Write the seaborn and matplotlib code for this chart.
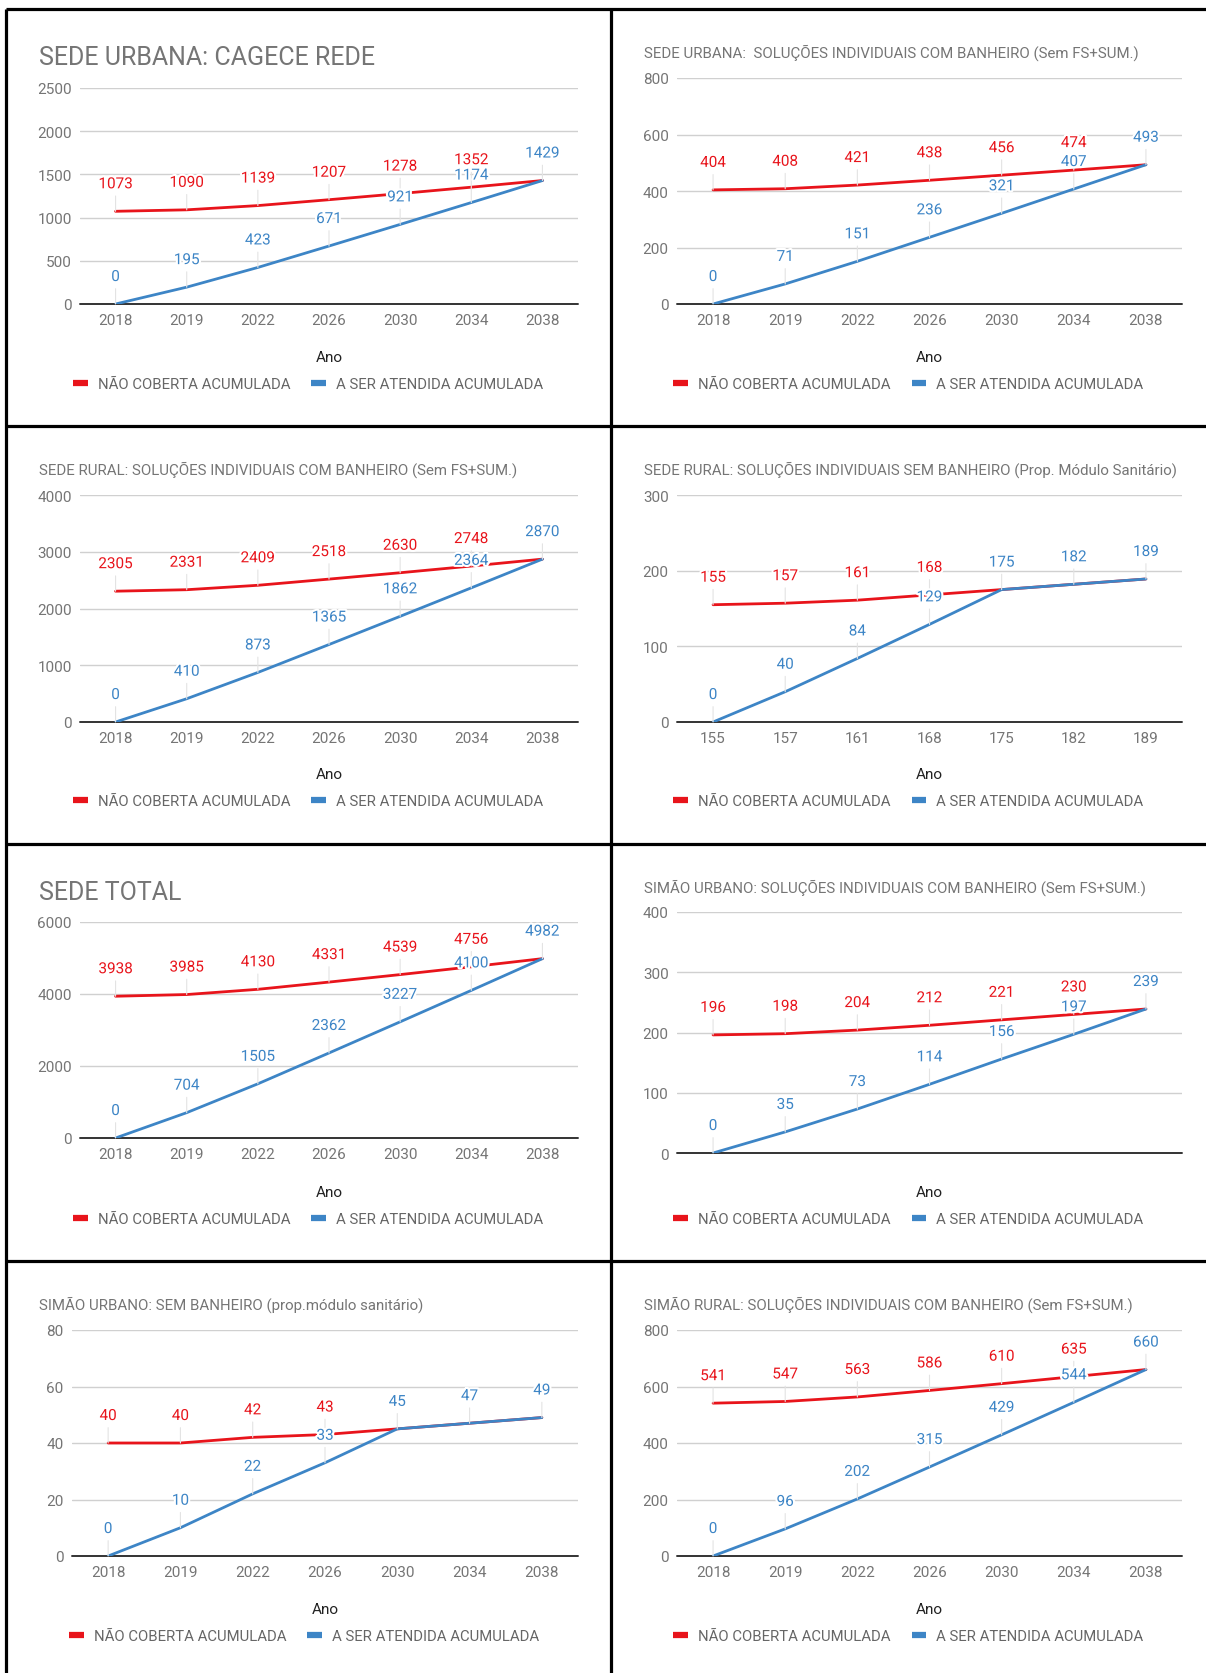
import matplotlib
matplotlib.use("Agg")
import matplotlib.pyplot as plt
import matplotlib.patheffects as pe
from matplotlib.lines import Line2D
import seaborn as sns
import pandas as pd

sns.set_theme(style="white")
plt.rcParams["font.family"] = ["Roboto", "DejaVu Sans"]

# ---------------- data ----------------
anos = ["2018", "2019", "2022", "2026", "2030", "2034", "2038"]
ticks_sede_rural_sem = ["155", "157", "161", "168", "175", "182", "189"]

titulos = [
    "SEDE URBANA: CAGECE REDE",
    "SEDE URBANA:  SOLUÇÕES INDIVIDUAIS COM BANHEIRO (Sem FS+SUM.)",
    "SEDE RURAL: SOLUÇÕES INDIVIDUAIS COM BANHEIRO (Sem FS+SUM.)",
    "SEDE RURAL: SOLUÇÕES INDIVIDUAIS SEM BANHEIRO (Prop. Módulo Sanitário)",
    "SEDE TOTAL",
    "SIMÃO URBANO: SOLUÇÕES INDIVIDUAIS COM BANHEIRO (Sem FS+SUM.)",
    "SIMÃO URBANO: SEM BANHEIRO (prop.módulo sanitário)",
    "SIMÃO RURAL: SOLUÇÕES INDIVIDUAIS COM BANHEIRO (Sem FS+SUM.)",
]

nao_sede_urb_rede = [1073, 1090, 1139, 1207, 1278, 1352, 1429]
ser_sede_urb_rede = [0, 195, 423, 671, 921, 1174, 1429]
nao_sede_urb_ind = [404, 408, 421, 438, 456, 474, 493]
ser_sede_urb_ind = [0, 71, 151, 236, 321, 407, 493]
nao_sede_rur_com = [2305, 2331, 2409, 2518, 2630, 2748, 2870]
ser_sede_rur_com = [0, 410, 873, 1365, 1862, 2364, 2870]
nao_sede_rur_sem = [155, 157, 161, 168, 175, 182, 189]
ser_sede_rur_sem = [0, 40, 84, 129, 175, 182, 189]
nao_sede_total = [3938, 3985, 4130, 4331, 4539, 4756, 4982]
ser_sede_total = [0, 704, 1505, 2362, 3227, 4100, 4982]
nao_simao_urb_com = [196, 198, 204, 212, 221, 230, 239]
ser_simao_urb_com = [0, 35, 73, 114, 156, 197, 239]
nao_simao_urb_sem = [40, 40, 42, 43, 45, 47, 49]
ser_simao_urb_sem = [0, 10, 22, 33, 45, 47, 49]
nao_simao_rur_com = [541, 547, 563, 586, 610, 635, 660]
ser_simao_rur_com = [0, 96, 202, 315, 429, 544, 660]

y_max = [2500, 800, 4000, 300, 6000, 400, 80, 800]
y_passo = [500, 200, 1000, 100, 2000, 100, 20, 200]

series = [
    (nao_sede_urb_rede, ser_sede_urb_rede),
    (nao_sede_urb_ind, ser_sede_urb_ind),
    (nao_sede_rur_com, ser_sede_rur_com),
    (nao_sede_rur_sem, ser_sede_rur_sem),
    (nao_sede_total, ser_sede_total),
    (nao_simao_urb_com, ser_simao_urb_com),
    (nao_simao_urb_sem, ser_simao_urb_sem),
    (nao_simao_rur_com, ser_simao_rur_com),
]
x_labels = [anos, anos, anos, ticks_sede_rural_sem, anos, None, anos, anos]

NOME_NAO = "NÃO COBERTA ACUMULADA"
NOME_SER = "A SER ATENDIDA ACUMULADA"

# ---------------- style ----------------
RED = "#e8141b"
BLUE = "#3d85c6"
GRAY_TXT = "#757575"
GRID = "#d0d0d0"

W, H = 1206, 1674
fig = plt.figure(figsize=(W / 100, H / 100), dpi=100)
fig.patch.set_facecolor("white")

# panel geometry in pixels: left, right, top gridline, zero line
panel_top = [10, 10, 427, 427, 845, 845, 1262, 1262]
geo = [
    (80, 578, 89, 305),
    (677, 1182, 79, 305),
    (80, 578, 496, 723),
    (677, 1182, 496, 723),
    (80, 578, 923, 1139),
    (677, 1182, 913, 1154),
    (72, 578, 1331, 1557),
    (677, 1182, 1331, 1557),
]
big_title = [True, False, False, False, True, False, False, False]
col_left = [6, 611, 6, 611, 6, 611, 6, 611]


def fx(px):
    return px / W


def fy(py):
    return 1 - py / H


for k in range(8):
    l, r, t, z = geo[k]
    T = panel_top[k]
    ax = fig.add_axes([fx(l), fy(z), (r - l) / W, (z - t) / H])
    nao, ser = series[k]
    df = pd.DataFrame({
        "idx": list(range(7)) * 2,
        "valor": nao + ser,
        "serie": [NOME_NAO] * 7 + [NOME_SER] * 7,
    })
    sns.lineplot(data=df, x="idx", y="valor", hue="serie",
                 hue_order=[NOME_NAO, NOME_SER],
                 palette={NOME_NAO: RED, NOME_SER: BLUE},
                 linewidth=2.0, legend=False, ax=ax, zorder=3)
    ax.set_xlim(-0.5, 6.5)
    ax.set_ylim(0, y_max[k])
    ax.set_yticks(list(range(0, y_max[k] + 1, y_passo[k])))
    ax.set_xticks(range(7))
    if x_labels[k] is not None:
        ax.set_xticklabels(x_labels[k])
    else:
        ax.set_xticklabels([""] * 7)
    for s in ax.spines.values():
        s.set_visible(False)
    ax.set_facecolor("none")
    ax.yaxis.grid(True, color=GRID, lw=1.0)
    ax.xaxis.grid(False)
    ax.set_axisbelow(True)
    ax.axhline(0, color="#333333", lw=1.4, zorder=2, clip_on=False)
    ax.tick_params(axis="both", length=0, labelsize=11, colors=GRAY_TXT)
    ax.tick_params(axis="y", pad=6)
    ax.tick_params(axis="x", pad=6.5)
    ax.set_xlabel("")
    ax.set_ylabel("")

    halo = [pe.withStroke(linewidth=3, foreground="white")]
    for serie_vals, cor, other in ((nao, RED, ser), (ser, BLUE, None)):
        for i, v in enumerate(serie_vals):
            if other is not None and other[i] == v:
                continue
            ax.annotate(str(v), xy=(i, v), xytext=(0, 27),
                        textcoords="offset pixels", ha="center", va="center",
                        fontsize=11, color=cor, zorder=5,
                        path_effects=halo,
                        arrowprops=dict(arrowstyle="-", color="#e3e3e3",
                                        lw=0.8, shrinkA=1, shrinkB=0))

    # title
    if big_title[k]:
        fig.text(fx(col_left[k] + 33), fy(T + 48), titulos[k], fontsize=18,
                 color=GRAY_TXT, ha="left", va="center")
    else:
        fig.text(fx(col_left[k] + 33), fy(T + 43), titulos[k], fontsize=10.8,
                 color=GRAY_TXT, ha="left", va="center")

    # axis title
    fig.text(fx((l + r) / 2), fy(T + 348), "Ano", fontsize=11,
             color="#222222", ha="center", va="center")

    # legend
    handles = [Line2D([], [], color=RED, lw=4.5, solid_capstyle="butt"),
               Line2D([], [], color=BLUE, lw=4.5, solid_capstyle="butt")]
    cx = (l + r) / 2 - 21
    leg = ax.legend(handles, [NOME_NAO, NOME_SER], loc="center",
                    bbox_to_anchor=(fx(cx), fy(T + 375)),
                    bbox_transform=fig.transFigure, ncol=2, frameon=False,
                    fontsize=10.7, handlelength=1.0, handletextpad=0.67,
                    columnspacing=1.4, borderpad=0)
    for txt in leg.get_texts():
        txt.set_color("#666666")

# table borders
bl = dict(color="black", lw=2.3, solid_capstyle="butt")
fig.add_artist(Line2D([fx(6), fx(W)], [fy(10), fy(10)], **bl))
fig.add_artist(Line2D([fx(6), fx(6)], [fy(10), fy(H)], **bl))
fig.add_artist(Line2D([fx(611), fx(611)], [fy(10), fy(H)], **bl))
for yy in (427, 845, 1262):
    fig.add_artist(Line2D([fx(6), fx(W)], [fy(yy), fy(yy)], **bl))

fig.savefig("out.png", dpi=100, facecolor="white")
